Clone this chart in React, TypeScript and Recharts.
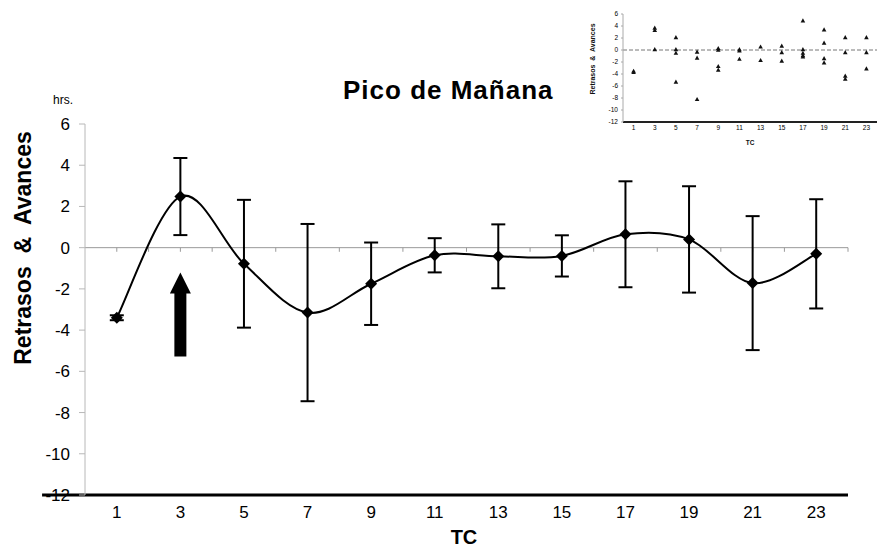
import React from 'react';
import {
  ComposedChart, Line, ErrorBar, XAxis, YAxis, ReferenceLine, ReferenceDot,
  ScatterChart, Scatter,
} from 'recharts';

// ---- main chart data ----
const tcValues = [1, 3, 5, 7, 9, 11, 13, 15, 17, 19, 21, 23];
const meanValues = [-3.4, 2.48, -0.78, -3.15, -1.75, -0.37, -0.42, -0.4, 0.65, 0.4, -1.72, -0.3];
const errorValues = [0.12, 1.87, 3.1, 4.3, 2.0, 0.83, 1.55, 1.0, 2.57, 2.58, 3.25, 2.65];
const xTicks = [1, 3, 5, 7, 9, 11, 13, 15, 17, 19, 21, 23];
const yTicks = [6, 4, 2, 0, -2, -4, -6, -8, -10, -12];
const zeroLineTicks = [1, 2, 3, 4, 5, 6, 7, 8, 9, 10, 11, 12, 13, 14, 15, 16, 17, 18, 19, 20, 21, 22, 23, 24];
const arrowTC = 3;
const arrowTipValue = -1.2;

// ---- inset data ----
const insetTC = [1, 3, 5, 7, 9, 11, 13, 15, 17, 19, 21, 23];
const insetValues = [
  [-3.5, -3.7],
  [3.7, 3.3, 0.1],
  [2.1, 0.1, -0.5, -5.3],
  [-0.3, -1.3, -8.2],
  [0.3, 0.0, -2.7, -3.3],
  [0.1, -0.1, -1.5],
  [0.55, -1.7],
  [0.7, -0.4, -1.8],
  [4.9, 0.1, -0.5, -0.9, -1.1],
  [3.4, 1.2, -1.4, -2.1],
  [2.1, -0.4, -4.3, -4.8],
  [2.1, -0.4, -3.1],
];

const mainData = tcValues.map((tc, i) => ({ tc, mean: meanValues[i], err: errorValues[i] }));
const insetData = insetTC.flatMap((tc, i) => insetValues[i].map((v) => ({ tc, v })));

const FONT = '"Liberation Sans", Arial, Helvetica, sans-serif';

// Catmull-Rom style smoothing (Excel-like smoothed line)
function smoothCurve(context: any) {
  let pts: number[][] = [];
  return {
    areaStart() {},
    areaEnd() {},
    lineStart() { pts = []; },
    point(x: number, y: number) { pts.push([+x, +y]); },
    lineEnd() {
      if (!pts.length) return;
      context.moveTo(pts[0][0], pts[0][1]);
      const t = 1 / 6;
      for (let i = 0; i < pts.length - 1; i++) {
        const p0 = pts[i - 1] || pts[i];
        const p1 = pts[i];
        const p2 = pts[i + 1];
        const p3 = pts[i + 2] || pts[i + 1];
        context.bezierCurveTo(
          p1[0] + (p2[0] - p0[0]) * t, p1[1] + (p2[1] - p0[1]) * t,
          p2[0] - (p3[0] - p1[0]) * t, p2[1] - (p3[1] - p1[1]) * t,
          p2[0], p2[1],
        );
      }
    },
  };
}

const Diamond = (props: any) => {
  const { cx, cy } = props;
  if (cx == null || cy == null) return null;
  const s = 6;
  return <polygon points={`${cx},${cy - s} ${cx + s},${cy} ${cx},${cy + s} ${cx - s},${cy}`} fill="#000" />;
};

const SmallTriangle = (props: any) => {
  const { cx, cy } = props;
  if (cx == null || cy == null) return null;
  const s = 2.3;
  return <polygon points={`${cx},${cy - s} ${cx + s},${cy + s * 0.8} ${cx - s},${cy + s * 0.8}`} fill="#111" />;
};

const Arrow = (props: any) => {
  const { cx, cy } = props;
  if (cx == null || cy == null) return null;
  const headH = 21, headW = 10.5, shaftW = 6, len = 84;
  const pts = [
    [cx, cy], [cx + headW, cy + headH], [cx + shaftW, cy + headH], [cx + shaftW, cy + len],
    [cx - shaftW, cy + len], [cx - shaftW, cy + headH], [cx - headW, cy + headH],
  ].map((p) => p.join(',')).join(' ');
  return <polygon points={pts} fill="#000" />;
};

export default function App() {
  return (
    <div style={{ position: 'fixed', left: 0, top: 0, width: 877, height: 547, background: '#fff', overflow: 'hidden', fontFamily: FONT }}>
      <div style={{ position: 'absolute', left: 0, top: 0 }}>
        <ComposedChart width={877} height={547} data={mainData} margin={{ top: 124, right: 29, bottom: 22, left: 0 }}>
          <XAxis
            type="number" dataKey="tc" domain={[0, 24]} ticks={xTicks} interval={0}
            axisLine={false} tickLine={false} tickSize={6} tickMargin={5} height={30}
            tick={{ fill: '#000', fontSize: 17, fontFamily: FONT }}
          />
          <YAxis
            type="number" domain={[-12, 6]} ticks={yTicks} interval={0} width={85}
            axisLine={{ stroke: '#b8b8b8', strokeWidth: 1 }} tickLine={{ stroke: '#b8b8b8' }} tickSize={6} tickMargin={9}
            tick={{ fill: '#000', fontSize: 17, fontFamily: FONT }}
          />
          <ReferenceLine y={0} stroke="#9a9a9a" strokeWidth={1} />
          {zeroLineTicks.map((t) => (
            <ReferenceLine key={t} segment={[{ x: t, y: 0 }, { x: t, y: -0.2 }]} stroke="#9a9a9a" strokeWidth={1} />
          ))}
          <ReferenceLine segment={[{ x: -1.35, y: -12 }, { x: 24, y: -12 }]} stroke="#000" strokeWidth={3} ifOverflow="visible" />
          <ReferenceDot x={arrowTC} y={arrowTipValue} shape={Arrow} ifOverflow="visible" />
          <Line
            dataKey="mean" type={smoothCurve as any} stroke="#000" strokeWidth={2}
            dot={<Diamond />} activeDot={false} isAnimationActive={false}
          >
            <ErrorBar dataKey="err" width={7} stroke="#000" strokeWidth={2} direction="y" />
          </Line>
        </ComposedChart>
      </div>

      <div style={{ position: 'absolute', left: 575, top: 0 }}>
        <ScatterChart width={302} height={150} margin={{ top: 14, right: 0, bottom: 0, left: 0 }}>
          <XAxis
            type="number" dataKey="tc" domain={[0, 24]} ticks={xTicks} interval={0} height={28}
            axisLine={{ stroke: '#222', strokeWidth: 2 }} tickLine={false} tickSize={2} tickMargin={1}
            tick={{ fill: '#000', fontSize: 6.5, fontFamily: FONT }}
          />
          <YAxis
            type="number" dataKey="v" domain={[-12, 6]} ticks={yTicks} interval={0} width={48}
            axisLine={{ stroke: '#aaa' }} tickLine={{ stroke: '#aaa' }} tickSize={2} tickMargin={3}
            tick={{ fill: '#000', fontSize: 6.5, fontFamily: FONT }}
          />
          <ReferenceLine y={0} stroke="#777" strokeWidth={1} strokeDasharray="4 2" />
          <Scatter data={insetData} fill="#111" shape={SmallTriangle} legendType="none" isAnimationActive={false} />
        </ScatterChart>
      </div>

      <svg width={877} height={547} style={{ position: 'absolute', left: 0, top: 0, pointerEvents: 'none' }}>
        <text x={343} y={99} fontFamily={FONT} fontWeight="bold" fontSize={26} letterSpacing={1} fill="#000">Pico de Mañana</text>
        <text x={53} y={104} fontFamily={FONT} fontSize={12} fill="#000">hrs.</text>
        <text transform="translate(31,248) rotate(-90)" textAnchor="middle" fontFamily={FONT} fontWeight="bold" fontSize={23} fill="#000" style={{ whiteSpace: 'pre' }}>Retrasos  &amp;  Avances</text>
        <text x={464} y={544} textAnchor="middle" fontFamily={FONT} fontWeight="bold" fontSize={20} fill="#000">TC</text>
        <text transform="translate(595,59) rotate(-90)" textAnchor="middle" fontFamily={FONT} fontWeight="bold" fontSize={7} fill="#111" style={{ whiteSpace: 'pre' }}>Retrasos  &amp;  Avances</text>
        <text x={750} y={145} textAnchor="middle" fontFamily={FONT} fontWeight="bold" fontSize={6.5} fill="#111">TC</text>
      </svg>
    </div>
  );
}
